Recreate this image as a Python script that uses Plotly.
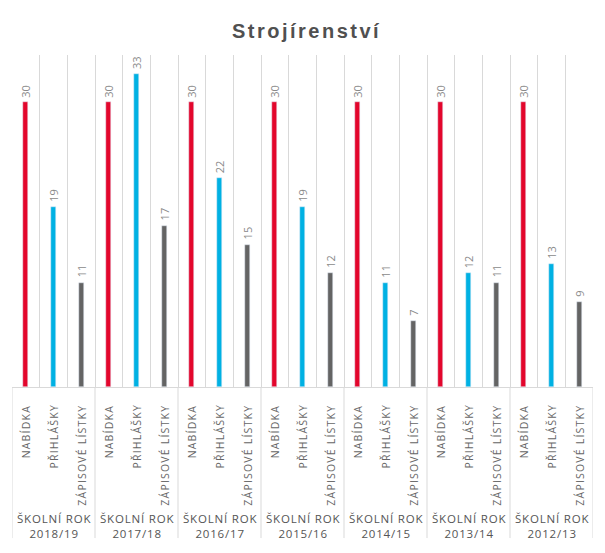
import plotly.graph_objects as go

years = ["2018/19", "2017/18", "2016/17", "2015/16", "2014/15", "2013/14", "2012/13"]
series_names = ["NABÍDKA", "PŘIHLÁŠKY", "ZÁPISOVÉ LÍSTKY"]
nabidka = [30, 30, 30, 30, 30, 30, 30]
prihlasky = [19, 33, 22, 19, 11, 12, 13]
zapisove = [11, 17, 15, 12, 7, 11, 9]
colors = ["#E3062C", "#00B1E3", "#646464"]

series_values = [nabidka, prihlasky, zapisove]
n_groups = len(years)
n_series = len(series_names)


def spaced(txt, px):
    return '<span style="letter-spacing:%spx">%s</span>' % (px, txt)


fig = go.Figure()
for s, (name, vals, col) in enumerate(zip(series_names, series_values, colors)):
    xs = [g * n_series + s for g in range(n_groups)]
    fig.add_trace(go.Bar(
        x=xs, y=vals, name=name, marker_color=col, width=0.18,
        hoverinfo="skip",
    ))
    for x, v in zip(xs, vals):
        fig.add_annotation(
            x=x, xref="x", y=v, yref="y", yshift=3,
            text=str(v), textangle=-90, showarrow=False,
            xanchor="center", yanchor="bottom",
            font=dict(family="Open Sans", size=11, color="#8a8a8a"),
        )

n_cat = n_groups * n_series
bounds = [i - 0.5 for i in range(n_cat + 1)]

# category labels
for g in range(n_groups):
    for s, name in enumerate(series_names):
        fig.add_annotation(
            x=g * n_series + s, xref="x", y=0, yref="paper", yshift=-16,
            text=spaced(name, 1.2), textangle=-90, showarrow=False,
            xanchor="center", yanchor="top",
            font=dict(family="Open Sans", size=10.5, color="#666666"),
        )
    fig.add_annotation(
        x=g * n_series + 1, xref="x", y=0, yref="paper", yshift=-122,
        text=spaced("ŠKOLNÍ ROK", 0.8) + "<br>" + spaced(years[g], 0.8), showarrow=False,
        xanchor="center", yanchor="top", align="center",
        font=dict(family="Open Sans", size=11.5, color="#555555"),
    )

# group separators below axis
for g in range(n_groups + 1):
    xb = g * n_series - 0.5
    fig.add_shape(type="line", xref="x", yref="paper", x0=xb, x1=xb,
                  y0=0, y1=-0.455, line=dict(color="#d9d9d9", width=1))

fig.update_layout(
    width=597, height=545,
    margin=dict(l=4, r=12, t=47, b=166),
    paper_bgcolor="white", plot_bgcolor="white",
    showlegend=False,
    title=dict(text="<b>" + spaced("Strojírenství", 2.5) + "</b>", x=0.5, xanchor="center",
               y=0.958, yanchor="middle",
               font=dict(family="Liberation Sans", size=20, color="#505050")),
    bargap=0,
)
fig.update_xaxes(range=[-0.5, n_cat - 0.5], tickvals=bounds, showticklabels=False,
                 showgrid=True, gridcolor="#d9d9d9", gridwidth=1, ticks="",
                 showline=True, linecolor="#d9d9d9", linewidth=1, zeroline=False)
fig.update_yaxes(range=[0, 35], showgrid=False, showticklabels=False, zeroline=False,
                 showline=False)

fig.write_html("out.html")
